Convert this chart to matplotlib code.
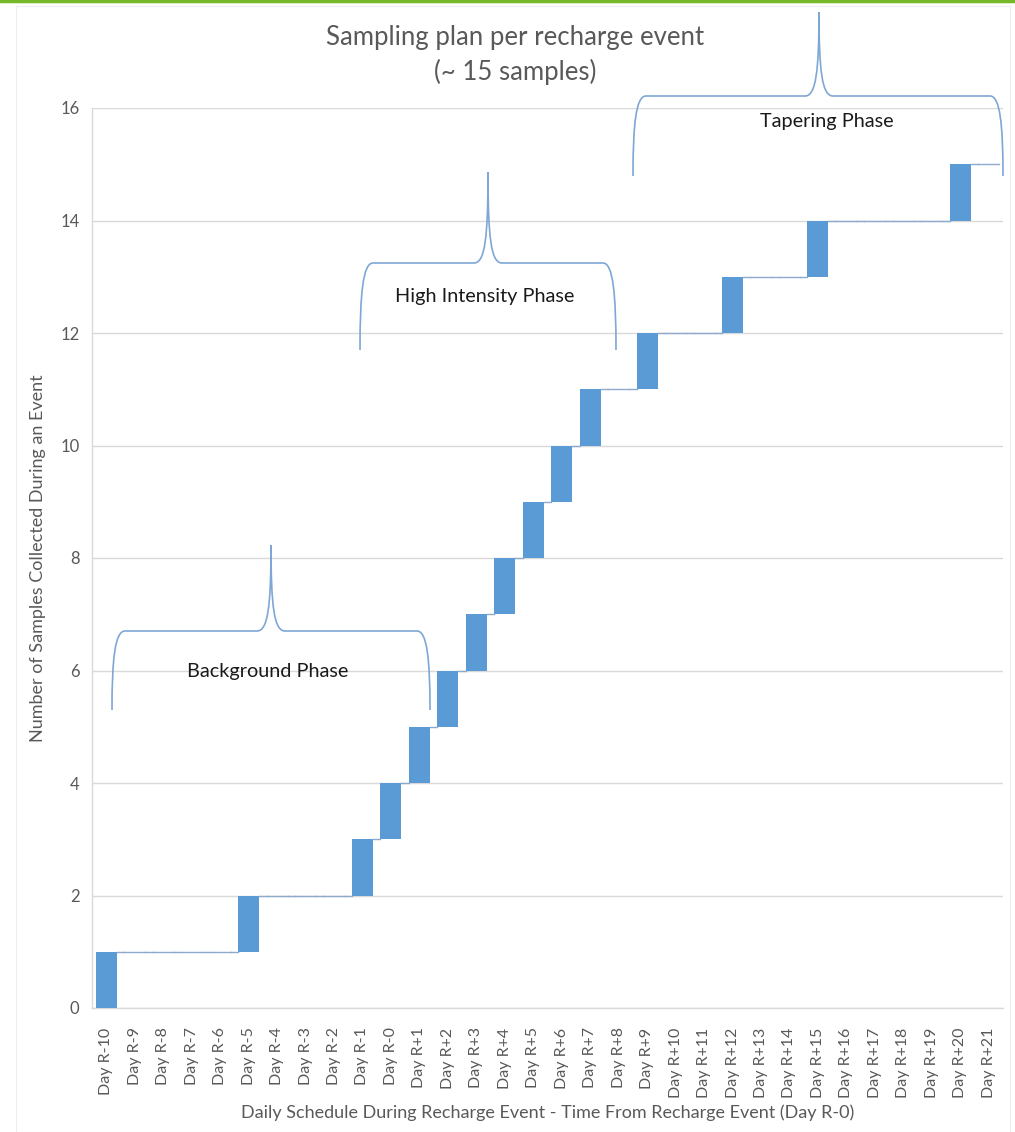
import matplotlib
matplotlib.use("Agg")
import matplotlib.pyplot as plt
import numpy as np
from matplotlib.path import Path
from matplotlib.patches import PathPatch, Rectangle
from matplotlib.lines import Line2D

plt.rcParams['font.family'] = ['Lato', 'DejaVu Sans']

categories = ["Day R-10", "Day R-9", "Day R-8", "Day R-7", "Day R-6", "Day R-5",
              "Day R-4", "Day R-3", "Day R-2", "Day R-1", "Day R-0", "Day R+1",
              "Day R+2", "Day R+3", "Day R+4", "Day R+5", "Day R+6", "Day R+7",
              "Day R+8", "Day R+9", "Day R+10", "Day R+11", "Day R+12", "Day R+13",
              "Day R+14", "Day R+15", "Day R+16", "Day R+17", "Day R+18", "Day R+19",
              "Day R+20", "Day R+21"]
samples_per_day = [1, 0, 0, 0, 0, 1, 0, 0, 0, 1, 1, 1, 1, 1, 1, 1, 1, 1,
                   0, 1, 0, 0, 1, 0, 0, 1, 0, 0, 0, 0, 1, 0]
y_ticks = [0, 2, 4, 6, 8, 10, 12, 14, 16]
phase_labels = ["Background Phase", "High Intensity Phase", "Tapering Phase"]

W, H = 1015, 1132
fig = plt.figure(figsize=(W / 100, H / 100), dpi=100)

def fx(x):
    return x / W

def fy(y):
    return 1 - y / H

# page decorations
fig.add_artist(Line2D([0, 1], [fy(1), fy(1)], color="#76b82a", lw=2.5, transform=fig.transFigure))
fig.add_artist(Rectangle((fx(16), fy(1132)), fx(994), fy(6) - fy(1132), fill=False,
                         edgecolor="#eeeeee", lw=0.8, transform=fig.transFigure))

ax = fig.add_axes([fx(92), fy(1008), fx(1003) - fx(92), fy(108) - fy(1008)])

vals = np.array(samples_per_day, dtype=float)
cum = np.cumsum(vals)
bottoms = cum - vals
x = np.arange(len(categories))
bw = 0.74
bar_color = "#5b9bd5"
line_color = "#8eaacc"

mask = vals > 0
ax.bar(x[mask], vals[mask], bottom=bottoms[mask], width=bw, color=bar_color, zorder=3)

# zero-value days drawn as thin lines at the running level
for i in x[~mask]:
    ax.plot([i - bw / 2, i + bw / 2], [cum[i], cum[i]], color=line_color, lw=1.0, zorder=3)
# connectors
for i in range(len(x) - 1):
    ax.plot([i + bw / 2, i + 1 - bw / 2], [cum[i], cum[i]], color=line_color, lw=1.0, zorder=3)

ax.set_xlim(-0.5, len(x) - 0.5)
ax.set_ylim(0, 16)
ax.set_yticks(y_ticks)
ax.set_yticklabels([str(t) for t in y_ticks], fontsize=12, color="#595959")
ax.set_xticks(x)
ax.set_xticklabels(categories, rotation=90, fontsize=11.5, color="#595959")
ax.tick_params(axis='x', length=0, pad=14)
ax.tick_params(axis='y', length=0, pad=9)
ax.grid(axis='y', color="#d9d9d9", lw=1.0, zorder=0)
ax.set_axisbelow(True)
for s in ["top", "right"]:
    ax.spines[s].set_visible(False)
ax.spines["left"].set_color("#d9d9d9")
ax.spines["bottom"].set_color("#d9d9d9")
ax.spines["left"].set_linewidth(1.0)
ax.spines["bottom"].set_linewidth(1.0)

fig.text(fx(38), fy(558), "Number of Samples Collected During an Event", fontsize=13,
         color="#595959", ha="center", va="center", rotation=90)
fig.text(fx(548), fy(1113), "Daily Schedule During Recharge Event - Time From Recharge Event (Day R-0)",
         fontsize=13, color="#595959", ha="center", va="center")

# title
fig.text(fx(515), fy(38), "Sampling plan per recharge event", fontsize=18.5, color="#595959",
         ha="center", va="center")
fig.text(fx(515), fy(72), "(~ 15 samples)", fontsize=18.5, color="#595959", ha="center", va="center")

def brace(x0, x1, ybar, yend, xp, ypeak):
    pts = [
        (x0, yend),
        (x0, ybar + (yend - ybar) * 0.35), (x0 + 3, ybar), (x0 + 13, ybar),
        (xp - 14, ybar),
        (xp - 3, ybar), (xp, ybar - 25), (xp, ypeak),
        (xp, ybar - 25), (xp + 3, ybar), (xp + 14, ybar),
        (x1 - 13, ybar),
        (x1 - 3, ybar), (x1, ybar + (yend - ybar) * 0.35), (x1, yend),
    ]
    codes = [Path.MOVETO,
             Path.CURVE4, Path.CURVE4, Path.CURVE4,
             Path.LINETO,
             Path.CURVE4, Path.CURVE4, Path.CURVE4,
             Path.CURVE4, Path.CURVE4, Path.CURVE4,
             Path.LINETO,
             Path.CURVE4, Path.CURVE4, Path.CURVE4]
    verts = [(fx(a), fy(b)) for a, b in pts]
    p = PathPatch(Path(verts, codes), fill=False, edgecolor="#7fa7d6", lw=1.2,
                  transform=fig.transFigure)
    fig.add_artist(p)

brace(112, 430, 631, 710, 271, 545)
brace(360, 616, 263, 350, 488, 172)
brace(633, 1003, 96, 176, 819, 12)

fig.text(fx(268), fy(672), phase_labels[0], fontsize=14.3, color="#1a1a1a", ha="center", va="center")
fig.text(fx(485), fy(296), phase_labels[1], fontsize=14.3, color="#1a1a1a", ha="center", va="center")
fig.text(fx(827), fy(122), phase_labels[2], fontsize=14.3, color="#1a1a1a", ha="center", va="center")

fig.savefig("out.png", dpi=100, facecolor="white")
